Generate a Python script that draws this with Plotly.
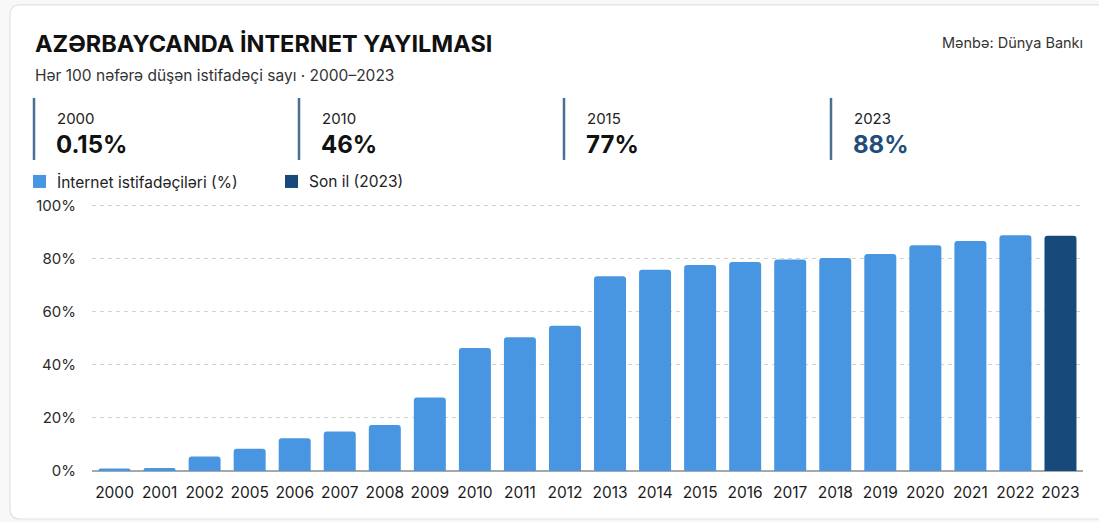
import plotly.graph_objects as go

years = ["2000", "2001", "2002", "2005", "2006", "2007", "2008", "2009", "2010", "2011",
         "2012", "2013", "2014", "2015", "2016", "2017", "2018", "2019", "2020", "2021",
         "2022", "2023"]
values = [0.9, 1.1, 5.5, 8.4, 12.3, 14.9, 17.3, 27.7, 46.4, 50.4,
          54.7, 73.4, 75.8, 77.6, 78.8, 79.7, 80.3, 81.8, 85.1, 86.7,
          88.8, 88.7]
kpi_years = ["2000", "2010", "2015", "2023"]
kpi_values = ["0.15%", "46%", "77%", "88%"]
y_ticks = [0, 20, 40, 60, 80, 100]
y_tick_labels = ["0%", "20%", "40%", "60%", "80%", "100%"]
legend_labels = ["İnternet istifadəçiləri (%)", "Son il (2023)"]

title_text = "AZƏRBAYCANDA İNTERNET YAYILMASI"
subtitle_text = "Hər 100 nəfərə düşən istifadəçi sayı · 2000–2023"
source_text = "Mənbə: Dünya Bankı"

BLUE = "#4896E1"
DARK = "#17497B"
FONT = "Inter, Open Sans, sans-serif"

W, H = 1099, 522
Y_MAX = 101
L, R, B = 92, 1083, 471
T = B - 265.3 * Y_MAX / 100


def px(x):
    return (x - L) / (R - L)


def py(y):
    return (B - y) / (B - T)


last = years[-1]
colors = [DARK if y == last else BLUE for y in years]

fig = go.Figure()
fig.add_trace(go.Bar(
    x=years, y=values, marker=dict(color=colors, line=dict(width=0)),
    hoverinfo="x+y", showlegend=False,
))

shapes = []
# card
cx0, cy0, cx1, cy1, r = 10, 5, 1115, 519, 10
path = (f"M {px(cx0+r)},{py(cy0)} L {px(cx1-r)},{py(cy0)} "
        f"Q {px(cx1)},{py(cy0)} {px(cx1)},{py(cy0+r)} L {px(cx1)},{py(cy1-r)} "
        f"Q {px(cx1)},{py(cy1)} {px(cx1-r)},{py(cy1)} L {px(cx0+r)},{py(cy1)} "
        f"Q {px(cx0)},{py(cy1)} {px(cx0)},{py(cy1-r)} L {px(cx0)},{py(cy0+r)} "
        f"Q {px(cx0)},{py(cy0)} {px(cx0+r)},{py(cy0)} Z")
shapes.append(dict(type="path", path=path, xref="paper", yref="paper",
                   fillcolor="white", line=dict(color="#e2e2e2", width=1.2), layer="below"))

annotations = []
annotations.append(dict(text=f"<b>{title_text}</b>", x=px(33), y=py(44), xref="paper", yref="paper",
                        xanchor="left", yanchor="middle", showarrow=False,
                        font=dict(family=FONT, size=23.5, color="#111111")))
annotations.append(dict(text=subtitle_text, x=px(33), y=py(76), xref="paper", yref="paper",
                        xanchor="left", yanchor="middle", showarrow=False,
                        font=dict(family=FONT, size=15.5, color="#333333")))
annotations.append(dict(text=source_text, x=px(1085), y=py(43), xref="paper", yref="paper",
                        xanchor="right", yanchor="middle", showarrow=False,
                        font=dict(family=FONT, size=14.5, color="#333333")))

kpi_x = [34, 299, 564, 831]
for i, (ky, kv) in enumerate(zip(kpi_years, kpi_values)):
    x0 = kpi_x[i]
    shapes.append(dict(type="line", xref="paper", yref="paper", x0=px(x0), x1=px(x0),
                       y0=py(98), y1=py(160), line=dict(color="#4A6F94", width=2.5)))
    annotations.append(dict(text=ky, x=px(x0 + 21), y=py(119), xref="paper", yref="paper",
                            xanchor="left", yanchor="middle", showarrow=False,
                            font=dict(family=FONT, size=15, color="#222222")))
    vcol = "#1F4E7C" if i == len(kpi_years) - 1 else "#111111"
    annotations.append(dict(text=f"<b>{kv}</b>", x=px(x0 + 20), y=py(145), xref="paper", yref="paper",
                            xanchor="left", yanchor="middle", showarrow=False,
                            font=dict(family=FONT, size=24, color=vcol)))

leg_x = [33, 285]
leg_c = [BLUE, DARK]
for i, lab in enumerate(legend_labels):
    x0 = leg_x[i]
    shapes.append(dict(type="rect", xref="paper", yref="paper", x0=px(x0), x1=px(x0 + 13),
                       y0=py(188), y1=py(175), fillcolor=leg_c[i], line=dict(width=0)))
    annotations.append(dict(text=lab, x=px(x0 + 22), y=py(182), xref="paper", yref="paper",
                            xanchor="left", yanchor="middle", showarrow=False,
                            font=dict(family=FONT, size=15.5, color="#222222")))

fig.update_layout(
    width=W, height=H,
    margin=dict(l=L, r=W - R, t=T, b=H - B),
    paper_bgcolor="#f8f8f8", plot_bgcolor="rgba(0,0,0,0)",
    bargap=0.29, barcornerradius=3,
    shapes=shapes, annotations=annotations,
    showlegend=False,
    font=dict(family=FONT, color="#222222"),
    xaxis=dict(type="category", range=[-0.5, len(years) - 0.5], showgrid=False,
               ticks="outside", ticklen=7, tickcolor="rgba(0,0,0,0)",
               tickfont=dict(family=FONT, size=15.5, color="#1a1a1a"),
               showline=False, fixedrange=True),
    yaxis=dict(range=[0, Y_MAX], tickvals=y_ticks, ticktext=y_tick_labels,
               showgrid=True, gridcolor="#d2d2d2", griddash="4px,4px", gridwidth=1,
               zeroline=True, zerolinecolor="#a8a8a8", zerolinewidth=1.5,
               ticks="outside", ticklen=12, tickcolor="rgba(0,0,0,0)",
               tickfont=dict(family=FONT, size=15, color="#2a2a2a"),
               showline=False, fixedrange=True),
)

fig.write_html("out.html", config={"displayModeBar": False},
               post_script="document.body.style.margin='0px';document.body.style.overflow='hidden';")
